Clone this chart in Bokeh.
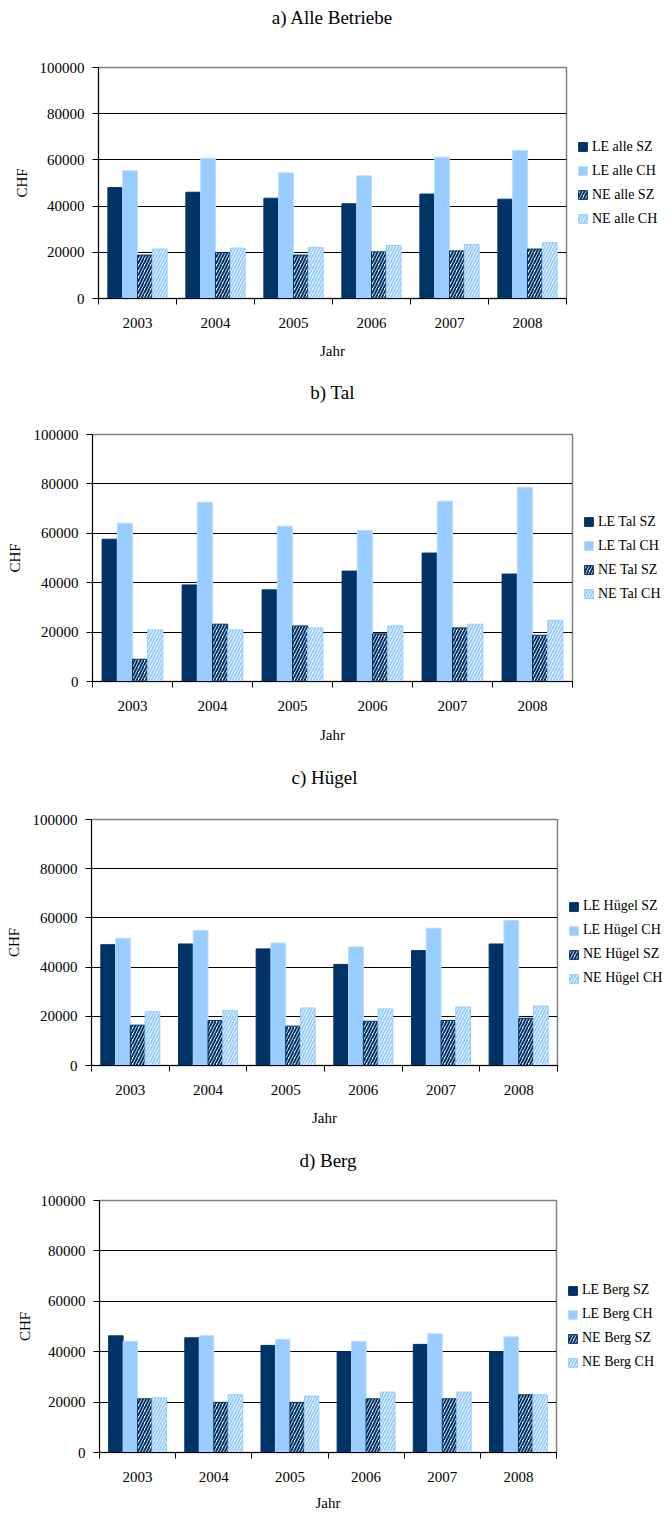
import numpy as np
from bokeh.plotting import figure
from bokeh.models import (ColumnDataSource, FixedTicker, NumeralTickFormatter, Range1d,
                          Legend, LegendItem, Title)
from bokeh.layouts import column, row
from bokeh.embed import file_html
from bokeh.resources import INLINE

# ---------------- data ----------------
years = ["2003", "2004", "2005", "2006", "2007", "2008"]
y_ticks = [0, 20000, 40000, 60000, 80000, 100000]

alle_le_sz = [48000, 46000, 43400, 41000, 45200, 43000]
alle_le_ch = [55300, 60700, 54400, 53100, 61200, 64100]
alle_ne_sz = [18800, 19900, 18800, 20200, 20600, 21400]
alle_ne_ch = [21400, 21800, 22100, 22900, 23400, 24200]

tal_le_sz = [57600, 39100, 37100, 44700, 52000, 43500]
tal_le_ch = [64100, 72600, 62900, 61200, 73000, 78600]
tal_ne_sz = [9000, 23200, 22500, 19300, 21700, 18700]
tal_ne_ch = [20900, 20900, 21700, 22500, 23200, 24800]

huegel_le_sz = [49100, 49400, 47400, 41100, 46700, 49400]
huegel_le_ch = [51700, 54900, 49800, 48200, 55800, 58900]
huegel_ne_sz = [16400, 18300, 16000, 18000, 18300, 19200]
huegel_ne_ch = [21900, 22300, 23400, 23000, 23800, 24200]

berg_le_sz = [46300, 45500, 42500, 40000, 42900, 40000]
berg_le_ch = [44100, 46300, 44900, 44100, 47100, 45900]
berg_ne_sz = [21300, 19900, 19900, 21300, 21300, 22900]
berg_ne_ch = [21700, 22900, 22400, 24000, 24000, 22900]

titles = ["a) Alle Betriebe", "b) Tal", "c) Hügel", "d) Berg"]
region_names = ["alle", "Tal", "Hügel", "Berg"]
series_names = ["LE {} SZ", "LE {} CH", "NE {} SZ", "NE {} CH"]
panel_values = [
    [alle_le_sz, alle_le_ch, alle_ne_sz, alle_ne_ch],
    [tal_le_sz, tal_le_ch, tal_ne_sz, tal_ne_ch],
    [huegel_le_sz, huegel_le_ch, huegel_ne_sz, huegel_ne_ch],
    [berg_le_sz, berg_le_ch, berg_ne_sz, berg_ne_ch],
]

# ---------------- style / layout ----------------
NAVY = "#003366"
LIGHT = "#99CCFF"
FONT = "Liberation Serif"
W = 670
RB = 2  # right border of the chart figure

# per panel: height, frame left, frame width, frame top, frame height,
#            title spacer, ylabel standoff, tick label standoff, xlabel standoff
geom = [
    dict(h=372, left=98, fw=468, top=67, fh=231, sp=36, yso=7, xtso=13, xlso=12),
    dict(h=385, left=92, fw=480, top=62, fh=247, sp=28, yso=8, xtso=13, xlso=13),
    dict(h=383, left=91, fw=466, top=62, fh=246, sp=28, yso=8, xtso=13, xlso=12),
    dict(h=373, left=99, fw=457, top=60, fh=256, sp=26, yso=5, xtso=13, xlso=10),
]

bar_w = 0.19
offsets = [-0.285, -0.095, 0.095, 0.285]
styles = [
    dict(fill_color=NAVY, line_color=NAVY),
    dict(fill_color=LIGHT, line_color="#B8DCFF"),
    dict(fill_color="white", line_color=NAVY, hatch_pattern="/", hatch_color=NAVY,
         hatch_scale=6, hatch_weight=2),
    dict(fill_color="white", line_color=LIGHT, hatch_pattern="/", hatch_color=LIGHT,
         hatch_scale=6, hatch_weight=2),
]

centers = np.arange(len(years)) + 0.5


def make_panel(title, region, values, g):
    bottom = g["h"] - g["top"] - g["fh"]
    p = figure(width=g["left"] + g["fw"] + RB, height=g["h"], output_backend="svg",
               toolbar_location=None,
               x_range=Range1d(0, len(years)), y_range=Range1d(0, 100000),
               min_border_left=g["left"], min_border_right=RB,
               min_border_top=g["top"], min_border_bottom=bottom)

    # spacer between frame and title, then the title itself
    p.add_layout(Title(text=" ", text_font_size="2px", standoff=g["sp"]), "above")
    p.add_layout(Title(text=title, align="center", text_font=FONT, text_font_size="19px",
                       text_font_style="normal", text_color="black", standoff=0), "above")

    p.outline_line_color = "#808080"
    p.outline_line_width = 1.5
    p.background_fill_color = "white"
    p.border_fill_color = "white"

    # legend-only companion figure (bars fall outside its range)
    lw = W - (g["left"] + g["fw"] + RB)
    q = figure(width=lw, height=g["h"], output_backend="svg", toolbar_location=None,
               x_range=Range1d(-20, -19), y_range=Range1d(0, 100000),
               x_axis_type=None, y_axis_type=None,
               min_border_left=0, min_border_right=0,
               min_border_top=g["top"], min_border_bottom=bottom)
    q.outline_line_color = None
    q.xgrid.grid_line_color = None
    q.ygrid.grid_line_color = None
    q.background_fill_color = "white"
    q.border_fill_color = "white"

    items = []
    for vals, off, st, nm in zip(values, offsets, styles, series_names):
        src = ColumnDataSource(dict(x=centers + off, top=vals))
        p.vbar(x="x", top="top", width=bar_w, bottom=0, source=src, line_width=1, **st)
        rq = q.vbar(x="x", top="top", width=bar_w, bottom=0, source=src, line_width=1, **st)
        items.append(LegendItem(label=nm.format(region), renderers=[rq]))

    # y axis
    p.yaxis.ticker = FixedTicker(ticks=y_ticks)
    p.yaxis.formatter = NumeralTickFormatter(format="0")
    p.yaxis.major_tick_out = 6
    p.yaxis.major_tick_in = 0
    p.yaxis.major_tick_line_color = "black"
    p.yaxis.axis_line_color = "black"
    p.yaxis.major_label_standoff = 8
    p.yaxis.axis_label = "CHF"
    p.yaxis.axis_label_standoff = g["yso"]

    # x axis: labels at centres, tick marks at category boundaries
    p.xaxis.ticker = FixedTicker(ticks=list(centers), minor_ticks=list(range(len(years) + 1)))
    p.xaxis.major_label_overrides = {float(c): y for c, y in zip(centers, years)}
    p.xaxis.major_tick_line_color = None
    p.xaxis.major_tick_out = 0
    p.xaxis.major_tick_in = 0
    p.xaxis.minor_tick_out = 6
    p.xaxis.minor_tick_in = 0
    p.xaxis.minor_tick_line_color = "black"
    p.xaxis.axis_line_color = "black"
    p.xaxis.major_label_standoff = g["xtso"]
    p.xaxis.axis_label = "Jahr"
    p.xaxis.axis_label_standoff = g["xlso"]

    for ax in (p.xaxis[0], p.yaxis[0]):
        ax.major_label_text_font = FONT
        ax.major_label_text_font_size = "15px"
        ax.major_label_text_color = "black"
        ax.axis_label_text_font = FONT
        ax.axis_label_text_font_size = "15px"
        ax.axis_label_text_font_style = "normal"
        ax.axis_label_text_color = "black"

    p.xgrid.grid_line_color = None
    p.ygrid.ticker = FixedTicker(ticks=y_ticks[1:-1])
    p.ygrid.grid_line_color = "black"
    p.ygrid.grid_line_width = 1

    legend = Legend(items=items, location="center_left",
                    padding=5, margin=16 - RB - 5, spacing=8, glyph_width=11, glyph_height=11,
                    label_height=14, label_standoff=4, border_line_color=None,
                    background_fill_alpha=0, label_text_font=FONT,
                    label_text_font_size="14px", label_text_color="black")
    q.add_layout(legend)
    return row(p, q, spacing=0)


panels = [make_panel(t, r, v, g) for t, r, v, g in zip(titles, region_names, panel_values, geom)]
layout = column(*panels, spacing=0)

open("out.html", "w").write(file_html(layout, INLINE))
